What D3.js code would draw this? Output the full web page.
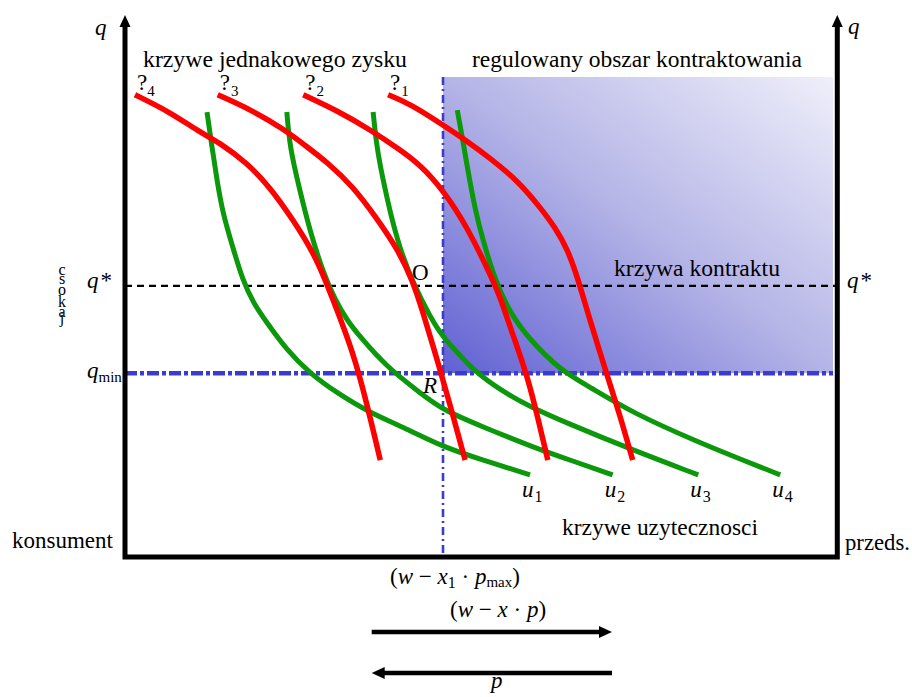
<!DOCTYPE html>
<html>
<head>
<meta charset="utf-8">
<script src="https://cdn.jsdelivr.net/npm/d3@7"></script>
<style>
  body { margin: 0; background: #fff; }
  svg { display: block; }
  text { font-family: "Liberation Serif", "Times New Roman", serif; fill: #000; }
</style>
</head>
<body>
<svg id="chart" width="912" height="697"></svg>
<script>
// ---- data: curves as [x, q] pairs in chart units ----
// isoprofit curves (krzywe jednakowego zysku)
const profit4 = [[1.4,96.3],[6.3,92.7],[10.5,88.5],[13.3,86.3],[17.1,82.1],[20.3,77.1],[23.6,70.2],[26.9,62.3],[29.2,53.5],[32.0,42.7],[33.9,32.1],[35.8,20.2]];
const profit3 = [[13.0,96.3],[17.8,93.1],[22.4,89.0],[25.2,85.8],[28.5,82.1],[32.0,77.1],[35.1,71.0],[38.3,64.0],[40.3,57.7],[41.7,51.5],[44.2,39.0],[45.9,30.0],[47.7,20.2]];
const profit2 = [[25.0,96.3],[29.9,92.9],[34.4,89.0],[38.6,84.8],[41.4,81.7],[44.6,76.5],[48.0,68.8],[51.6,57.7],[52.6,54.2],[54.3,46.7],[56.4,37.9],[57.9,29.0],[59.3,20.2]];
const profit1 = [[36.9,96.3],[40.0,94.4],[44.6,90.0],[48.1,86.5],[51.2,83.1],[55.0,78.5],[58.2,72.9],[60.4,68.5],[62.1,64.0],[63.5,58.1],[65.2,49.4],[67.6,37.9],[69.4,29.6],[71.2,20.2]];
const profitCurves = [profit4, profit3, profit2, profit1];
const profitSubs = ["4", "3", "2", "1"];

// utility curves (krzywe uzytecznosci)
const util1 = [[11.5,92.7],[12.2,85.4],[12.9,78.5],[13.7,71.7],[15.1,64.6],[16.5,57.7],[18.0,52.9],[19.9,48.8],[22.7,43.1],[25.9,38.3],[29.7,34.2],[34.4,30.0],[39.0,27.1],[44.6,22.9],[50.2,20.2],[56.8,17.1]];
const util2 = [[22.7,92.7],[23.1,85.4],[24.5,76.5],[25.9,68.1],[27.8,59.2],[29.5,53.5],[31.1,49.4],[33.0,45.8],[36.7,39.6],[41.4,34.2],[44.6,30.6],[50.2,27.1],[57.2,22.9],[62.8,20.0],[68.4,17.1]];
const util3 = [[34.8,92.7],[35.3,85.4],[36.2,78.5],[37.2,71.7],[38.6,64.0],[40.4,57.1],[42.8,50.0],[44.6,45.8],[46.7,42.5],[48.8,39.0],[52.6,34.8],[56.8,31.3],[62.0,27.9],[71.2,22.3],[80.4,17.1]];
const util4 = [[46.6,93.1],[47.3,87.5],[48.0,81.3],[49.1,72.3],[50.2,66.0],[51.9,57.7],[54.0,50.8],[56.8,45.2],[61.0,39.0],[65.2,35.4],[71.2,30.0],[80.6,23.8],[86.3,20.4],[91.9,17.1]];
const utilCurves = [util1, util2, util3, util4];
const utilSubs = ["1", "2", "3", "4"];

// reference levels
const qStar = 56.5;       // contract curve level
const qMin = 38.3;        // minimum quality
const pMaxX = 44.6;       // w - x1 * pmax
const regionRight = 99.3;
const regionTop = 100;
const axisTop = 112.9;
const axisRight = 99.9;

// ---- scales ----
const x = d3.scaleLinear().domain([0, 100]).range([125, 838]);
const y = d3.scaleLinear().domain([0, 100]).range([557, 77]);

const svg = d3.select("#chart");
const defs = svg.append("defs");

const grad = defs.append("linearGradient")
  .attr("id", "regionFill")
  .attr("x1", 0).attr("y1", 1).attr("x2", 1).attr("y2", 0);
grad.append("stop").attr("offset", 0).attr("stop-color", "#6060d3");
grad.append("stop").attr("offset", 0.5).attr("stop-color", "#b4b4e7");
grad.append("stop").attr("offset", 1).attr("stop-color", "#efeffa");

// regulated contracting region
svg.append("rect")
  .attr("x", x(pMaxX)).attr("y", y(regionTop))
  .attr("width", x(regionRight) - x(pMaxX))
  .attr("height", y(qMin) - y(regionTop))
  .attr("fill", "url(#regionFill)");

// q* contract line
svg.append("line")
  .attr("x1", x(0)).attr("x2", x(axisRight))
  .attr("y1", y(qStar)).attr("y2", y(qStar))
  .attr("stroke", "#000").attr("stroke-width", 2.2)
  .attr("stroke-dasharray", "7,5");

// vertical pmax line
svg.append("line")
  .attr("x1", x(pMaxX)).attr("x2", x(pMaxX))
  .attr("y1", y(regionTop)).attr("y2", y(0))
  .attr("stroke", "#3b3bd0").attr("stroke-width", 2.6)
  .attr("stroke-dasharray", "8,4,2,4");

// qmin line
svg.append("line")
  .attr("x1", x(0)).attr("x2", x(regionRight))
  .attr("y1", y(qMin)).attr("y2", y(qMin))
  .attr("stroke", "#3b3bd0").attr("stroke-width", 4.5)
  .attr("stroke-dasharray", "12,3,4,3");

// curves
const line = d3.line()
  .x(d => x(d[0])).y(d => y(d[1]))
  .curve(d3.curveBasis);

svg.append("g").selectAll("path.util")
  .data(utilCurves).join("path")
  .attr("class", "util")
  .attr("d", line)
  .attr("fill", "none")
  .attr("stroke", "#0b980b")
  .attr("stroke-width", 5)
  .attr("stroke-linecap", "butt");

svg.append("g").selectAll("path.profit")
  .data(profitCurves).join("path")
  .attr("class", "profit")
  .attr("d", line)
  .attr("fill", "none")
  .attr("stroke", "#ff0000")
  .attr("stroke-width", 5.5)
  .attr("stroke-linecap", "butt");

// ---- axes frame ----
const axisG = svg.append("g");
axisG.append("path")
  .attr("d", `M${x(0)},${y(axisTop) + 8} V${y(0)} H${x(axisRight)} V${y(axisTop) + 8}`)
  .attr("fill", "none").attr("stroke", "#000").attr("stroke-width", 5)
  .attr("stroke-linejoin", "miter");
[x(0), x(axisRight)].forEach(ax => {
  axisG.append("path")
    .attr("d", `M${ax},${y(axisTop)} L${ax + 5.5},${y(axisTop) + 12} L${ax - 5.5},${y(axisTop) + 12} Z`)
    .attr("fill", "#000");
});

// ---- labels ----
const FS = 23;
function txt(px, py, opts = {}) {
  const t = svg.append("text")
    .attr("x", px).attr("y", py)
    .attr("font-size", opts.size || FS);
  if (opts.anchor) t.attr("text-anchor", opts.anchor);
  if (opts.italic) t.attr("font-style", "italic");
  if (opts.len) t.attr("textLength", opts.len).attr("lengthAdjust", "spacingAndGlyphs");
  return t;
}
function part(t, s, o = {}) {
  const ts = t.append("tspan").text(s);
  if (o.italic) ts.attr("font-style", "italic");
  if (o.size) ts.attr("font-size", o.size);
  if (o.dy !== undefined) ts.attr("dy", o.dy);
  if (o.dx !== undefined) ts.attr("dx", o.dx);
  return ts;
}

// axis names
txt(95, 35, { italic: true }).text("q");
txt(848, 34, { italic: true }).text("q");

txt(143, 67, { len: 264 }).text("krzywe jednakowego zysku");
txt(472, 67, { len: 330 }).text("regulowany obszar kontraktowania");
txt(614, 276, { len: 166 }).text("krzywa kontraktu");
txt(562, 535, { len: 196 }).text("krzywe uzytecznosci");
txt(12, 548, { len: 101 }).text("konsument");
txt(845, 550, { len: 65 }).text("przeds.");

// stacked vertical letters
const stacked = ["c", "s", "o", "k", "a", "j"];
const stackedY = [275, 284, 295, 307, 317, 323];
stacked.forEach((c, i) => txt(62, stackedY[i], { size: 16, anchor: "middle" }).text(c));

// q* and qmin
[[87, 288], [847, 288]].forEach(([px, py]) => {
  const t = txt(px, py);
  part(t, "q", { italic: true });
  part(t, "*", { dx: 2 });
});
{
  const t = txt(87, 378);
  part(t, "q", { italic: true });
  part(t, "min", { size: 15, dy: 4 });
}

// points O and R
txt(412, 280).text("O");
txt(423, 393, { italic: true }).text("R");

// profit curve labels
profitCurves.forEach((c, i) => {
  const t = txt(x(c[0][0]) + 2, y(c[0][1]) - 5);
  part(t, "?");
  part(t, profitSubs[i], { size: 15, dy: 6, dx: i === 0 ? 0 : 1 });
});

// utility curve labels
utilCurves.forEach((c, i) => {
  const end = c[c.length - 1];
  const t = txt(x(end[0]) - 8, 497);
  part(t, "u", { italic: true });
  part(t, utilSubs[i], { size: 16, dy: 5, dx: 1 });
});

// price expressions
{
  const t = txt(390, 584);
  part(t, "(");
  part(t, "w", { italic: true });
  part(t, " \u2212 ");
  part(t, "x", { italic: true });
  part(t, "1", { size: 16, dy: 4 });
  part(t, "  \u00b7 ", { dy: -4 });
  part(t, "p", { italic: true });
  part(t, "max", { size: 15, dy: 3 });
  part(t, ")", { dy: -3 });
}
{
  const t = txt(450, 617);
  part(t, "(");
  part(t, "w", { italic: true });
  part(t, " \u2212 ");
  part(t, "x", { italic: true });
  part(t, " \u00b7 ");
  part(t, "p", { italic: true });
  part(t, ")");
}
txt(491, 688, { italic: true }).text("p");

// direction arrows
const arrowL = 34.6, arrowR = 68.3;
function arrow(py, toRight) {
  const xs = x(arrowL), xe = x(arrowR);
  svg.append("line")
    .attr("x1", toRight ? xs : xs + 10).attr("x2", toRight ? xe - 10 : xe)
    .attr("y1", py).attr("y2", py)
    .attr("stroke", "#000").attr("stroke-width", 4.5);
  const tip = toRight ? xe : xs;
  const back = toRight ? xe - 13 : xs + 13;
  svg.append("path")
    .attr("d", `M${tip},${py} L${back},${py - 6} L${back},${py + 6} Z`)
    .attr("fill", "#000");
}
arrow(632, true);
arrow(673, false);
</script>
</body>
</html>
